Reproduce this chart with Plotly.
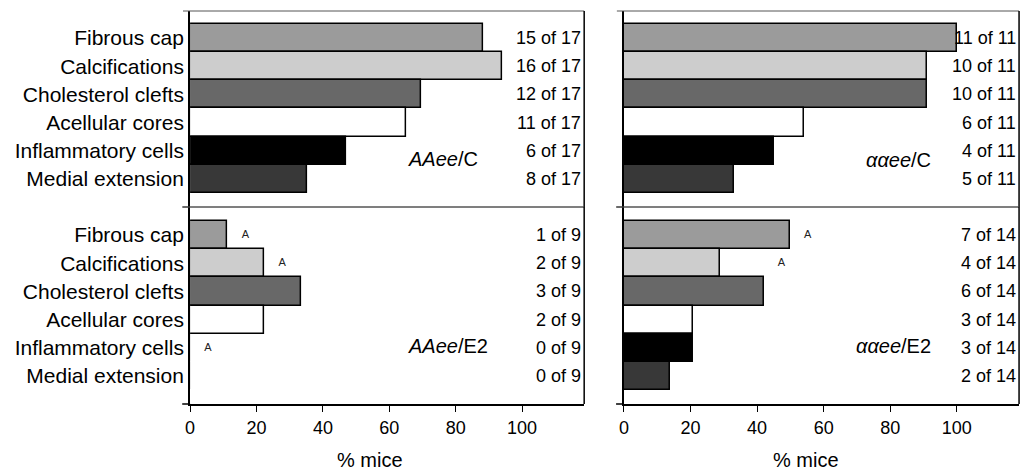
import plotly.graph_objects as go

# ---------------- data ----------------
categories = ["Fibrous cap", "Calcifications", "Cholesterol clefts",
              "Acellular cores", "Inflammatory cells", "Medial extension"]
bar_colors = ["#9b9b9b", "#cdcdcd", "#686868", "#ffffff", "#000000", "#383838"]

# % mice (bar lengths)
aa_c_pct = [88.2, 94.1, 69.5, 65.0, 47.1, 35.3]
alpha_c_pct = [100.0, 90.9, 90.9, 54.0, 45.0, 33.0]
aa_e2_pct = [11.1, 22.2, 33.3, 22.2, 0.0, 0.0]
alpha_e2_pct = [50.0, 28.8, 42.0, 20.8, 20.8, 13.8]

# count labels ("k of n")
aa_c_pos, aa_c_n = [15, 16, 12, 11, 6, 8], 17
alpha_c_pos, alpha_c_n = [11, 10, 10, 6, 4, 5], 11
aa_e2_pos, aa_e2_n = [1, 2, 3, 2, 0, 0], 9
alpha_e2_pos, alpha_e2_n = [7, 4, 6, 3, 3, 2], 14

# small "A" markers
aa_e2_mark_cat = ["Fibrous cap", "Calcifications", "Inflammatory cells"]
aa_e2_mark_x = [16.7, 27.7, 5.4]
alpha_e2_mark_cat = ["Fibrous cap", "Calcifications"]
alpha_e2_mark_x = [55.2, 47.3]

panel_names = ["<i>AAee</i>/C", "<i>\u03b1\u03b1ee</i>/C",
               "<i>AAee</i>/E2", "<i>\u03b1\u03b1ee</i>/E2"]

xticks = [0, 20, 40, 60, 80, 100]

FONT = "Liberation Sans, Arial, Helvetica, sans-serif"

# ---------------- figure ----------------
W, H = 1031, 471
def px_x(p): return p / W
def px_y(p): return (H - p) / H

left_dom = [px_x(186), px_x(582)]
right_dom = [px_x(622), px_x(1019)]
top_dom = [px_y(207), px_y(11)]
bot_dom = [px_y(404), px_y(207)]
XR = [0, 118.7]

panels = [
    # (xaxis id, yaxis id, pct, pos, n, xdom, ydom, yrange)
    ("x", "y", aa_c_pct, aa_c_pos, aa_c_n, left_dom, top_dom, [5.997, -0.961]),
    ("x2", "y2", alpha_c_pct, alpha_c_pos, alpha_c_n, right_dom, top_dom, [5.997, -0.961]),
    ("x3", "y3", aa_e2_pct, aa_e2_pos, aa_e2_n, left_dom, bot_dom, [5.997, -0.997]),
    ("x4", "y4", alpha_e2_pct, alpha_e2_pos, alpha_e2_n, right_dom, bot_dom, [5.997, -0.997]),
]

fig = go.Figure()
annotations = []
shapes = []
layout_axes = {}

for i, (xa, ya, pct, pos, n, xdom, ydom, yr) in enumerate(panels):
    fig.add_trace(go.Bar(
        y=categories, x=pct, orientation="h", width=1,
        marker=dict(color=bar_colors, line=dict(color="black", width=1.5)),
        xaxis=xa, yaxis=ya, hoverinfo="x+y"))
    xkey = "xaxis" + xa[1:]
    ykey = "yaxis" + ya[1:]
    is_bottom = i >= 2
    is_left = i % 2 == 0
    layout_axes[xkey] = dict(
        domain=xdom, range=XR, anchor=ya, showgrid=False, zeroline=False,
        tickvals=xticks if is_bottom else [], ticks="outside" if is_bottom else "",
        ticklen=6, tickwidth=1, tickcolor="black",
        showticklabels=is_bottom, showline=is_bottom, linecolor="black", linewidth=2,
        tickfont=dict(family=FONT, size=18, color="black"), fixedrange=True)
    layout_axes[ykey] = dict(
        domain=ydom, range=yr, anchor=xa, type="category",
        categoryorder="array", categoryarray=categories,
        showgrid=False, zeroline=False, ticks="", showticklabels=is_left,
        ticklabelstandoff=0,
        showline=True, linecolor="black", linewidth=2,
        tickfont=dict(family=FONT, size=21, color="black"), fixedrange=True)
    # count labels
    for c, k in zip(categories, pos):
        annotations.append(dict(
            x=0.997, xref=xa + " domain", y=c, yref=ya, xanchor="right",
            yanchor="middle", text=f"{k} of {n}", showarrow=False,
            font=dict(family=FONT, size=18, color="black")))
    # frame lines: top / divider / bottom extensions to the left
    shapes.append(dict(type="line", xref=xa + " domain", yref=ya + " domain",
                       x0=-0.018, x1=1, y0=1, y1=1,
                       line=dict(color="#555555", width=1)))
    shapes.append(dict(type="line", xref=xa + " domain", yref=ya + " domain",
                       x0=-0.02, x1=0, y0=0, y1=0,
                       line=dict(color="black", width=1.5 if is_bottom else 1)))
    if not is_bottom:
        shapes.append(dict(type="line", xref=xa + " domain", yref=ya + " domain",
                           x0=0, x1=1, y0=0, y1=0,
                           line=dict(color="#555555", width=1)))
    # right border
    shapes.append(dict(type="line", xref=xa + " domain", yref=ya + " domain",
                       x0=1, x1=1, y0=0, y1=1,
                       line=dict(color="black", width=1.5)))

# panel labels
panel_label_pos = [
    ("x", "y", 65.1, 4.30, "left"),
    ("x2", "y2", 92.9, 4.33, "right"),
    ("x3", "y3", 65.1, 3.93, "left"),
    ("x4", "y4", 92.9, 3.93, "right"),
]
for (xa, ya, xv, yv, anc), name in zip(panel_label_pos, panel_names):
    annotations.append(dict(x=xv, y=yv, xref=xa, yref=ya, xanchor=anc,
                            yanchor="middle", text=name, showarrow=False,
                            font=dict(family=FONT, size=20, color="black")))

# "A" markers
fig.add_trace(go.Scatter(x=aa_e2_mark_x, y=aa_e2_mark_cat, mode="text", text=["A"] * 3,
                         textfont=dict(family=FONT, size=11, color="#222222"),
                         xaxis="x3", yaxis="y3", hoverinfo="skip"))
fig.add_trace(go.Scatter(x=alpha_e2_mark_x, y=alpha_e2_mark_cat, mode="text", text=["A"] * 2,
                         textfont=dict(family=FONT, size=11, color="#222222"),
                         xaxis="x4", yaxis="y4", hoverinfo="skip"))

# x axis titles
for xc in [px_x(367), px_x(805)]:
    annotations.append(dict(x=xc, y=px_y(460), xref="paper", yref="paper",
                            xanchor="center", yanchor="middle", text="% mice",
                            showarrow=False,
                            font=dict(family=FONT, size=20, color="black")))

fig.update_layout(
    width=W, height=H, autosize=False,
    margin=dict(l=0, r=0, t=0, b=0),
    paper_bgcolor="white", plot_bgcolor="white",
    showlegend=False, bargap=0,
    annotations=annotations, shapes=shapes,
    font=dict(family=FONT, color="black"),
    **layout_axes)

fig.write_html("out.html",
               config={"displayModeBar": False},
               post_script="document.body.style.margin='0px';"
                           "document.body.style.overflow='hidden';")
